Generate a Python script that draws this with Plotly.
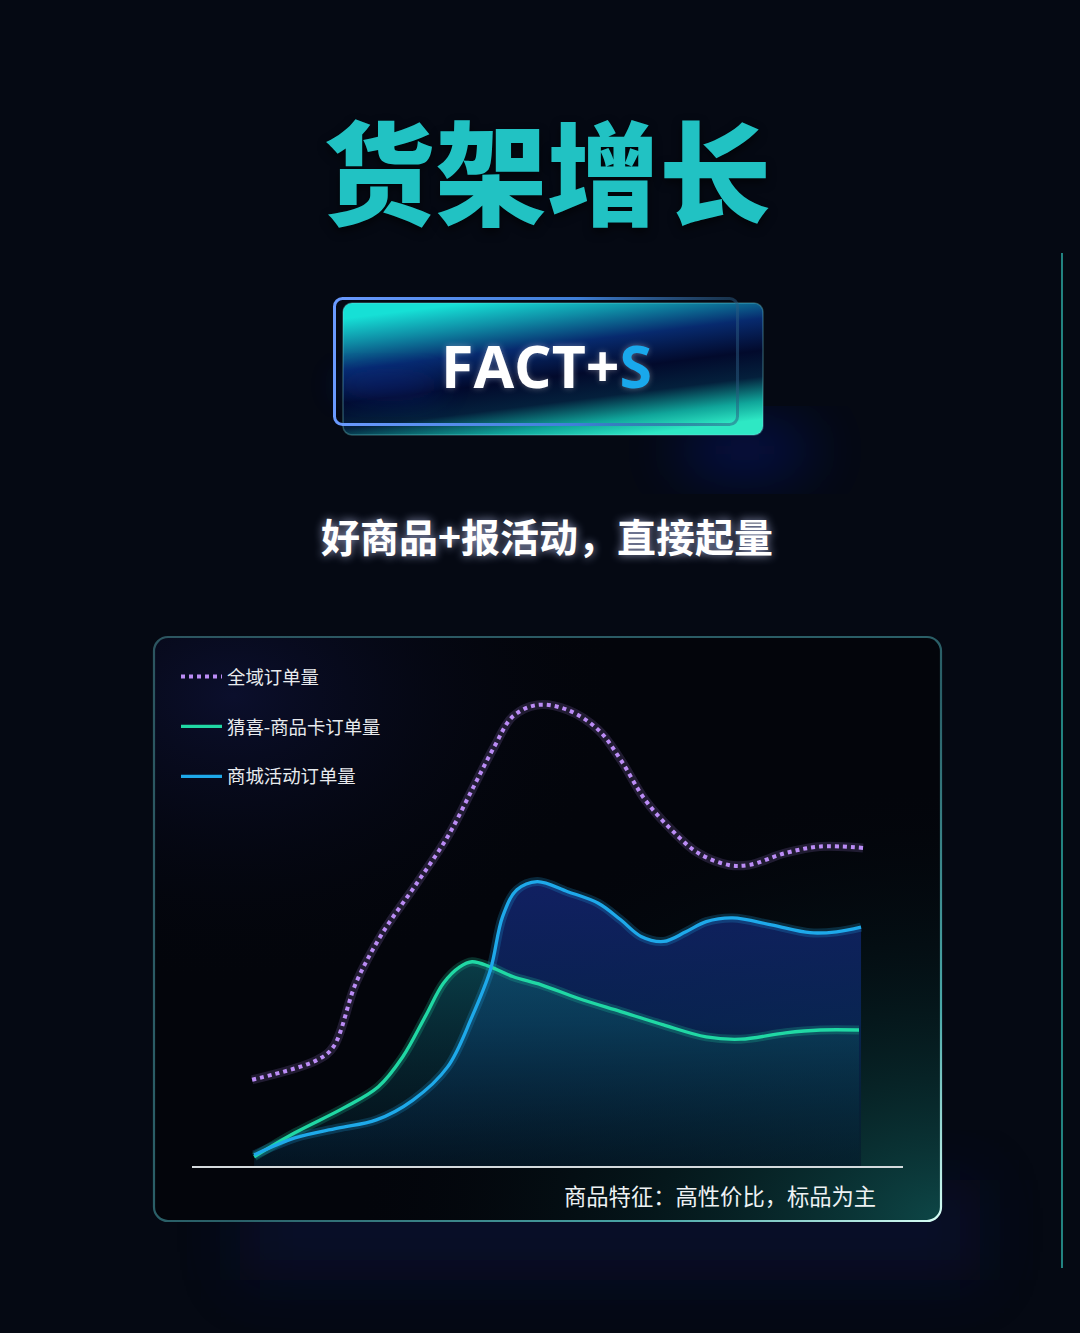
import base64
import plotly.graph_objects as go

# ---------------- data ----------------
series_names = ["全域订单量", "猜喜-商品卡订单量", "商城活动订单量"]

days_all = [0.0, 3.2, 4.0, 5.1, 6.4, 8.1, 9.6, 10.8, 11.9, 12.8, 14.0, 15.5, 17.0,
            18.1, 19.3, 20.6, 21.9, 23.4, 24.4, 26.2, 27.9, 30.0]
orders_all = [18.7, 23.0, 25.9, 39.7, 50.5, 61.4, 71.4, 81.6, 91.0, 97.5, 100.0, 98.9, 94.6,
              88.1, 79.4, 72.9, 67.9, 65.3, 65.3, 67.9, 69.3, 69.0]

days_card = [0.1, 2.1, 4.5, 6.2, 7.4, 8.5, 9.4, 10.2, 10.8, 11.7, 12.8, 14.2, 16.0,
             18.1, 20.2, 22.3, 24.0, 26.2, 27.9, 29.8]
orders_card = [2.0, 7.2, 12.6, 17.2, 23.7, 32.4, 39.7, 43.2, 44.3, 43.2, 41.1, 39.3, 36.4,
               33.5, 30.6, 28.0, 27.5, 28.9, 29.5, 29.5]

days_mall = [0.1, 2.1, 4.2, 6.1, 7.9, 9.6, 10.8, 11.7, 12.3, 13.0, 14.0, 15.5, 17.0,
             18.1, 19.1, 20.2, 21.3, 22.3, 23.6, 25.5, 27.4, 28.7, 29.9]
orders_mall = [2.4, 6.1, 8.2, 10.0, 14.3, 21.5, 32.4, 42.5, 54.1, 59.9, 61.7, 59.5, 57.0,
               53.4, 49.8, 48.7, 50.8, 53.0, 53.8, 52.3, 50.6, 50.8, 51.8]

title_text = "货架增长"
badge_text = "FACT+"
badge_accent = "S"
subtitle_text = "好商品+报活动，直接起量"
caption_text = "商品特征：高性价比，标品为主"

# ---------------- styling ----------------
W, H = 1080, 1333
BG = "#050913"
C_ALL = "#bb8cf6"
C_CARD = "#20d8a4"
C_MALL = "#1ea9ea"
CJK = "Noto Sans CJK SC"


def px_x(p):
    return p / W


def px_y(p):
    return 1 - p / H


def svg_uri(svg):
    return "data:image/svg+xml;base64," + base64.b64encode(svg.encode("utf-8")).decode()


bg_svg = f'''<svg xmlns="http://www.w3.org/2000/svg" width="{W}" height="{H}" viewBox="0 0 {W} {H}">
<defs>
<filter id="b30" x="-50%" y="-50%" width="200%" height="200%"><feGaussianBlur stdDeviation="30"/></filter>
<filter id="b14" x="-50%" y="-50%" width="200%" height="200%"><feGaussianBlur stdDeviation="14"/></filter>
<linearGradient id="fact" x1="0.3" y1="0" x2="0.7" y2="1">
<stop offset="0" stop-color="#16e0d6"/>
<stop offset="0.16" stop-color="#0f8ea6"/>
<stop offset="0.34" stop-color="#072a6e"/>
<stop offset="0.55" stop-color="#020a2c"/>
<stop offset="0.72" stop-color="#04203c"/>
<stop offset="0.88" stop-color="#10a59a"/>
<stop offset="1" stop-color="#2ee8c4"/>
</linearGradient>
<linearGradient id="factb" x1="0" y1="0.5" x2="1" y2="0.5">
<stop offset="0" stop-color="#6a9aff"/>
<stop offset="0.6" stop-color="#3f7fd8"/>
<stop offset="1" stop-color="#2a5a80" stop-opacity="0.5"/>
</linearGradient>
<radialGradient id="pteal" cx="1" cy="1" r="0.75">
<stop offset="0" stop-color="#0e4a4a" stop-opacity="0.95"/>
<stop offset="0.5" stop-color="#072a2c" stop-opacity="0.45"/>
<stop offset="1" stop-color="#03050b" stop-opacity="0"/>
</radialGradient>
<radialGradient id="pnavy" cx="0.1" cy="0.1" r="0.5">
<stop offset="0" stop-color="#0c1030" stop-opacity="0.9"/>
<stop offset="1" stop-color="#03050b" stop-opacity="0"/>
</radialGradient>
<linearGradient id="pb" x1="0" y1="0" x2="1" y2="1">
<stop offset="0" stop-color="#2c5560"/>
<stop offset="0.55" stop-color="#2a6068"/>
<stop offset="0.82" stop-color="#4aa8a8"/>
<stop offset="1" stop-color="#d8fff6"/>
</linearGradient>
</defs>
<rect width="{W}" height="{H}" fill="{BG}"/>
<ellipse cx="745" cy="450" rx="70" ry="22" fill="#0a2cff" opacity="0.3" filter="url(#b30)"/>
<rect x="240" y="1180" width="740" height="100" fill="#0b1448" opacity="0.4" filter="url(#b30)"/>
<rect x="343" y="303" width="420" height="132" rx="9" fill="url(#fact)"/>
<ellipse cx="390" cy="385" rx="55" ry="16" fill="#0f2c90" opacity="0.35" filter="url(#b14)"/>
<rect x="343" y="303" width="420" height="132" rx="9" fill="none" stroke="#7fe0e6" stroke-opacity="0.3" stroke-width="1.5"/>
<rect x="334.5" y="298.5" width="403" height="126" rx="8" fill="none" stroke="url(#factb)" stroke-width="3"/>
<rect x="154" y="637" width="787" height="584" rx="14" fill="#03050b"/>
<rect x="154" y="637" width="787" height="584" rx="14" fill="url(#pnavy)"/>
<rect x="154" y="637" width="787" height="584" rx="14" fill="url(#pteal)"/>
<rect x="154" y="637" width="787" height="584" rx="14" fill="none" stroke="url(#pb)" stroke-width="2.2"/>
</svg>'''

fig = go.Figure()

# area fills
fig.add_trace(go.Scatter(
    x=days_mall, y=orders_mall, mode="lines", fill="tozeroy",
    line=dict(width=0, shape="spline", smoothing=1.0),
    fillgradient=dict(type="vertical", colorscale=[[0, "rgba(4,22,40,0.55)"], [0.5, "rgba(10,40,95,0.8)"], [1, "rgba(18,34,105,0.92)"]]),
    hoverinfo="skip", showlegend=False))
fig.add_trace(go.Scatter(
    x=days_card, y=orders_card, mode="lines", fill="tozeroy",
    line=dict(width=0, shape="spline", smoothing=1.0),
    fillgradient=dict(type="vertical", colorscale=[[0, "rgba(4,30,45,0.35)"], [1, "rgba(14,98,112,0.6)"]]),
    hoverinfo="skip", showlegend=False))

# glows
for xs, ys, c in [(days_all, orders_all, "rgba(187,140,246,0.16)"),
                  (days_card, orders_card, "rgba(32,216,164,0.22)"),
                  (days_mall, orders_mall, "rgba(30,169,234,0.22)")]:
    fig.add_trace(go.Scatter(x=xs, y=ys, mode="lines", hoverinfo="skip", showlegend=False,
                             line=dict(color=c, width=9, shape="spline", smoothing=1.0)))

# lines (legend order)
fig.add_trace(go.Scatter(x=days_all, y=orders_all, mode="lines", name=series_names[0], legendgroup="a",
                         line=dict(color=C_ALL, width=4, dash="dot", shape="spline", smoothing=1.0)))
fig.add_trace(go.Scatter(x=days_card, y=orders_card, mode="lines", name=series_names[1], legendgroup="b",
                         line=dict(color=C_CARD, width=3.3, shape="spline", smoothing=1.0)))
fig.add_trace(go.Scatter(x=days_mall, y=orders_mall, mode="lines", name=series_names[2], legendgroup="c",
                         line=dict(color=C_MALL, width=3.3, shape="spline", smoothing=1.0)))

annotations = [
    dict(text=title_text, x=px_x(547), y=px_y(168), xref="paper", yref="paper", showarrow=False,
         xanchor="center", yanchor="middle",
         font=dict(family=CJK, size=112, weight=900, color="#21c2c3", shadow="0px 4px 10px rgba(0,0,0,0.6)")),
    dict(text=f"{badge_text}<span style='color:#19a8ec'>{badge_accent}</span>", x=px_x(546), y=px_y(365),
         xref="paper", yref="paper", showarrow=False, xanchor="center", yanchor="middle",
         font=dict(family="Open Sans", size=59, weight=700, color="#ffffff", shadow="0px 0px 6px rgba(255,255,255,0.35)")),
    dict(text=subtitle_text, x=px_x(547), y=px_y(535), xref="paper", yref="paper", showarrow=False,
         xanchor="center", yanchor="middle",
         font=dict(family=CJK, size=39, weight=700, color="#ffffff", shadow="0px 0px 10px rgba(200,210,255,0.75)")),
    dict(text=caption_text, x=px_x(720), y=px_y(1195), xref="paper", yref="paper", showarrow=False,
         xanchor="center", yanchor="middle",
         font=dict(family=CJK, size=22.3, color="#eef2f4")),
]

fig.update_layout(
    width=W, height=H, margin=dict(l=0, r=0, t=0, b=0),
    paper_bgcolor=BG, plot_bgcolor="rgba(0,0,0,0)",
    xaxis=dict(domain=[px_x(192), px_x(903)], range=[-2.95, 31.96], showgrid=False, zeroline=False,
               showticklabels=False, ticks="", showline=True, linecolor="#d4dadd", linewidth=2, fixedrange=True),
    yaxis=dict(domain=[px_y(1166), px_y(690)], range=[0, 103.25], showgrid=False, zeroline=False,
               showticklabels=False, ticks="", showline=False, fixedrange=True),
    legend=dict(x=px_x(176), y=px_y(658), xanchor="left", yanchor="top", bgcolor="rgba(0,0,0,0)",
                font=dict(family=CJK, size=18.4, color="#e8ebee"), tracegroupgap=23, itemwidth=41,
                traceorder="grouped"),
    showlegend=True,
    annotations=annotations,
    shapes=[dict(type="line", xref="paper", yref="paper", x0=px_x(1062), x1=px_x(1062),
                 y0=px_y(253), y1=px_y(1268), line=dict(color="#2aa39e", width=1.6))],
    images=[
        dict(source=svg_uri(bg_svg), xref="paper", yref="paper", x=0, y=1, sizex=1, sizey=1,
             xanchor="left", yanchor="top", sizing="stretch", layer="below"),
    ],
)

fig.write_html("out.html", config={"displayModeBar": False},
               post_script="document.body.style.margin='0';document.body.style.background='#050913';")
